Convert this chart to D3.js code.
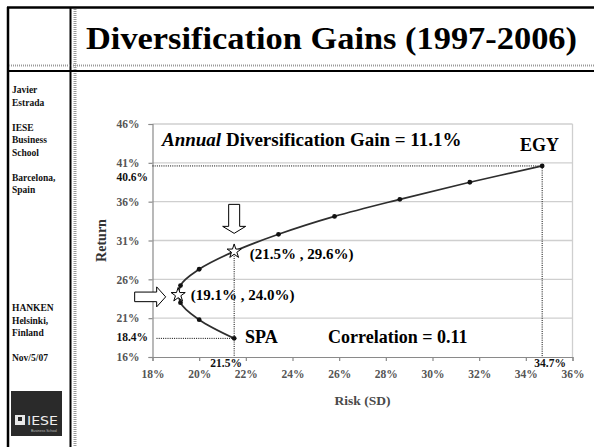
<!DOCTYPE html>
<html>
<head>
<meta charset="utf-8">
<script src="https://cdn.jsdelivr.net/npm/d3@7"></script>
<style>
    body { margin: 0; background: #fff; }
    svg { display: block; font-family: "Liberation Serif", "Times New Roman", serif; }
</style>
</head>
<body>
<div id="slide"></div>
<script>
// frontier points, weight in EGY from 0 to 100%
const riskSD = [21.5, 20.0, 19.2, 19.2, 20.0, 21.5, 23.4, 25.8, 28.6, 31.6, 34.7];
const returns = [18.4, 20.8, 23.0, 25.2, 27.3, 29.6, 31.8, 34.1, 36.3, 38.5, 40.6];

const xTicks = [18, 20, 22, 24, 26, 28, 30, 32, 34, 36];
const yTicks = [16, 21, 26, 31, 36, 41, 46];

const starRisk = [19.1, 21.5];
const starReturn = [24.0, 29.6];
const starLabels = ['(19.1% , 24.0%)', '(21.5% , 29.6%)'];

const sideLines = ['Javier', 'Estrada', '', 'IESE', 'Business', 'School', '', 'Barcelona,', 'Spain'];
const sideLines2 = ['HANKEN', 'Helsinki,', 'Finland', '', 'Nov/5/07'];

const width = 594, height = 447;

const svg = d3.select('#slide')
    .append('svg')
    .attr('width', width)
    .attr('height', height);

// slide frame
function drawFrame() {
    svg.append('line').attr('x1', 7).attr('y1', 7.5).attr('x2', 594).attr('y2', 7.5)
        .attr('stroke', '#000').attr('stroke-width', 2.5);
    svg.append('line').attr('x1', 8).attr('y1', 7).attr('x2', 8).attr('y2', height)
        .attr('stroke', '#000').attr('stroke-width', 2.5);
    svg.append('line').attr('x1', 70.5).attr('y1', 7).attr('x2', 70.5).attr('y2', height)
        .attr('stroke', '#000').attr('stroke-width', 2);
    svg.append('line').attr('x1', 75).attr('y1', 9).attr('x2', 75).attr('y2', height)
        .attr('stroke', '#9a9a9a').attr('stroke-width', 3).attr('stroke-dasharray', '1,1');
    svg.append('line').attr('x1', 9).attr('y1', 65.5).attr('x2', 594).attr('y2', 65.5)
        .attr('stroke', '#9a9a9a').attr('stroke-width', 2).attr('stroke-dasharray', '1,1');
    svg.append('line').attr('x1', 8).attr('y1', 71).attr('x2', 594).attr('y2', 71)
        .attr('stroke', '#000').attr('stroke-width', 2);

    svg.append('text')
        .attr('x', 86)
        .attr('y', 49)
        .attr('font-size', 32)
        .attr('font-weight', 'bold')
        .attr('textLength', 491)
        .attr('lengthAdjust', 'spacingAndGlyphs')
        .text('Diversification Gains (1997-2006)');
}

function drawSidebar() {
    const side = svg.append('g')
        .attr('font-size', 9.5)
        .attr('font-weight', 'bold')
        .attr('fill', '#111');

    side.selectAll('.top')
        .data(sideLines)
        .enter().append('text')
        .attr('x', 12)
        .attr('y', (d, i) => 93 + i * 12.5)
        .text(d => d);

    side.selectAll('.bottom')
        .data(sideLines2)
        .enter().append('text')
        .attr('x', 12)
        .attr('y', (d, i) => 311 + i * 12.5)
        .text(d => d);

    // IESE logo
    const logo = svg.append('g');
    logo.append('rect')
        .attr('x', 11).attr('y', 391).attr('width', 51).attr('height', 45)
        .attr('fill', '#2a2a2a');
    logo.append('rect')
        .attr('x', 15).attr('y', 415).attr('width', 10).attr('height', 10)
        .attr('fill', '#e8e8e8');
    logo.append('rect')
        .attr('x', 18).attr('y', 417).attr('width', 4).attr('height', 4)
        .attr('fill', '#2a2a2a');
    logo.append('text')
        .attr('x', 27).attr('y', 425)
        .attr('font-family', '"DejaVu Sans Condensed", "Liberation Sans Narrow", sans-serif')
        .attr('font-size', 13)
        .attr('fill', '#eee')
        .attr('textLength', 31)
        .attr('lengthAdjust', 'spacingAndGlyphs')
        .text('IESE');
    logo.append('text')
        .attr('x', 31).attr('y', 432)
        .attr('font-family', 'sans-serif')
        .attr('font-size', 3.5)
        .attr('fill', '#bbb')
        .text('Business School');
}

function drawChart() {
    const x = d3.scaleLinear().domain([18, 36]).range([152.5, 572.5]);
    const y = d3.scaleLinear().domain([16, 46]).range([357, 124]);

    // grid lines
    svg.append('g')
        .selectAll('line')
        .data(yTicks.slice(1))
        .enter().append('line')
        .attr('x1', x(18)).attr('x2', x(36))
        .attr('y1', d => y(d)).attr('y2', d => y(d))
        .attr('stroke', '#cfcfcf')
        .attr('stroke-width', 1.3);

    svg.append('line')
        .attr('x1', x(36)).attr('x2', x(36))
        .attr('y1', y(46)).attr('y2', y(16))
        .attr('stroke', '#cfcfcf')
        .attr('stroke-width', 1.3);

    // axes
    const xAxis = svg.append('g')
        .attr('transform', `translate(0,${y(16)})`)
        .call(d3.axisBottom(x).tickValues(xTicks).tickSize(4).tickPadding(9).tickFormat(d => d + '%'));
    const yAxis = svg.append('g')
        .attr('transform', `translate(${x(18)},0)`)
        .call(d3.axisLeft(y).tickValues(yTicks).tickSize(4).tickPadding(9).tickFormat(d => d + '%'));

    [xAxis, yAxis].forEach(a => {
        a.select('.domain').attr('stroke', '#8a8a8a').attr('stroke-width', 1.2);
        a.selectAll('.tick line').attr('stroke', '#8a8a8a').attr('stroke-width', 1.2);
        a.selectAll('text')
            .attr('font-family', '"Liberation Serif", serif')
            .attr('font-size', 11.5)
            .attr('font-weight', 'bold')
            .attr('fill', '#555');
    });

    svg.append('text')
        .attr('x', (x(18) + x(36)) / 2)
        .attr('y', 405)
        .attr('text-anchor', 'middle')
        .attr('font-size', 13.5)
        .attr('font-weight', 'bold')
        .attr('fill', '#4a4a4a')
        .text('Risk (SD)');

    svg.append('text')
        .attr('transform', `translate(106,${(y(16) + y(46)) / 2}) rotate(-90)`)
        .attr('text-anchor', 'middle')
        .attr('font-size', 14)
        .attr('font-weight', 'bold')
        .attr('fill', '#333')
        .text('Return');

    // dotted guides to the two countries
    const dotted = svg.append('g')
        .attr('stroke', '#000')
        .attr('stroke-width', 1)
        .attr('stroke-dasharray', '1,1.2');
    const egy = riskSD.length - 1;
    dotted.append('line')
        .attr('x1', x(18)).attr('x2', x(riskSD[egy]))
        .attr('y1', y(returns[egy])).attr('y2', y(returns[egy]));
    dotted.append('line')
        .attr('x1', x(riskSD[egy])).attr('x2', x(riskSD[egy]))
        .attr('y1', y(returns[egy])).attr('y2', y(16));
    dotted.append('line')
        .attr('x1', x(18) + 4).attr('x2', x(riskSD[0]))
        .attr('y1', y(returns[0])).attr('y2', y(returns[0]));
    dotted.append('line')
        .attr('x1', x(riskSD[0])).attr('x2', x(riskSD[0]))
        .attr('y1', y(starReturn[1])).attr('y2', y(16));

    // frontier
    const pts = riskSD.map((r, i) => [r, returns[i]]);
    const line = d3.line()
        .x(d => x(d[0]))
        .y(d => y(d[1]))
        .curve(d3.curveCatmullRom.alpha(0.5));

    svg.append('path')
        .datum(pts)
        .attr('d', line)
        .attr('fill', 'none')
        .attr('stroke', '#2e2e2e')
        .attr('stroke-width', 1.7);

    svg.append('g')
        .selectAll('circle')
        .data(pts)
        .enter().append('circle')
        .attr('cx', d => x(d[0]))
        .attr('cy', d => y(d[1]))
        .attr('r', 2.4)
        .attr('fill', '#111');

    // value labels on the guides
    const valLabels = svg.append('g')
        .attr('font-size', 11.5)
        .attr('font-weight', 'bold')
        .attr('fill', '#111');
    valLabels.append('text').attr('x', 148).attr('y', 181).attr('text-anchor', 'end')
        .text(returns[egy].toFixed(1) + '%');
    valLabels.append('text').attr('x', 148).attr('y', 341).attr('text-anchor', 'end')
        .text(returns[0].toFixed(1) + '%');
    valLabels.append('text').attr('x', x(riskSD[0]) - 8).attr('y', 367).attr('text-anchor', 'middle')
        .text(riskSD[0].toFixed(1) + '%');
    valLabels.append('text').attr('x', x(riskSD[egy]) + 8).attr('y', 367).attr('text-anchor', 'middle')
        .text(riskSD[egy].toFixed(1) + '%');

    // block arrows pointing at the stars
    const downArrow = 'M-5.5,-29L5.5,-29L5.5,-7L11.5,-7L0,0L-11.5,-7L-5.5,-7Z';
    const rightArrow = 'M-31,-4.8L-9,-4.8L-9,-10L0,0L-9,10L-9,4.8L-31,4.8Z';
    svg.append('path')
        .attr('d', downArrow)
        .attr('transform', `translate(${x(starRisk[1])},${y(starReturn[1]) - 18})`)
        .attr('fill', '#fff').attr('stroke', '#000').attr('stroke-width', 1);
    svg.append('path')
        .attr('d', rightArrow)
        .attr('transform', `translate(${x(starRisk[0]) - 12.5},${y(starReturn[0]) + 2})`)
        .attr('fill', '#fff').attr('stroke', '#000').attr('stroke-width', 1);

    // stars
    const star = d3.symbol().type(d3.symbolStar).size(62);
    svg.append('g')
        .selectAll('path')
        .data(starRisk)
        .enter().append('path')
        .attr('d', star)
        .attr('transform', (d, i) => `translate(${x(d)},${y(starReturn[i])})`)
        .attr('fill', '#fff')
        .attr('stroke', '#000')
        .attr('stroke-width', 1);

    svg.append('g')
        .selectAll('text')
        .data(starLabels)
        .enter().append('text')
        .attr('x', (d, i) => x(starRisk[i]) + (i === 0 ? 12.5 : 15.5))
        .attr('y', (d, i) => y(starReturn[i]) + (i === 0 ? 5 : 8))
        .attr('font-size', 15)
        .attr('font-weight', 'bold')
        .text(d => d);

    // annotations
    const title = svg.append('text')
        .attr('x', 162)
        .attr('y', 146)
        .attr('font-size', 19)
        .attr('font-weight', 'bold');
    title.append('tspan').attr('font-style', 'italic').text('Annual');
    title.append('tspan').text(' Diversification Gain = 11.1%');

    svg.append('text')
        .attr('x', 520).attr('y', 151)
        .attr('font-size', 18).attr('font-weight', 'bold')
        .text('EGY');
    svg.append('text')
        .attr('x', 245).attr('y', 343)
        .attr('font-size', 18).attr('font-weight', 'bold')
        .text('SPA');
    svg.append('text')
        .attr('x', 328).attr('y', 343)
        .attr('font-size', 18).attr('font-weight', 'bold')
        .text('Correlation = 0.11');
}

drawFrame();
drawSidebar();
drawChart();
</script>
</body>
</html>
